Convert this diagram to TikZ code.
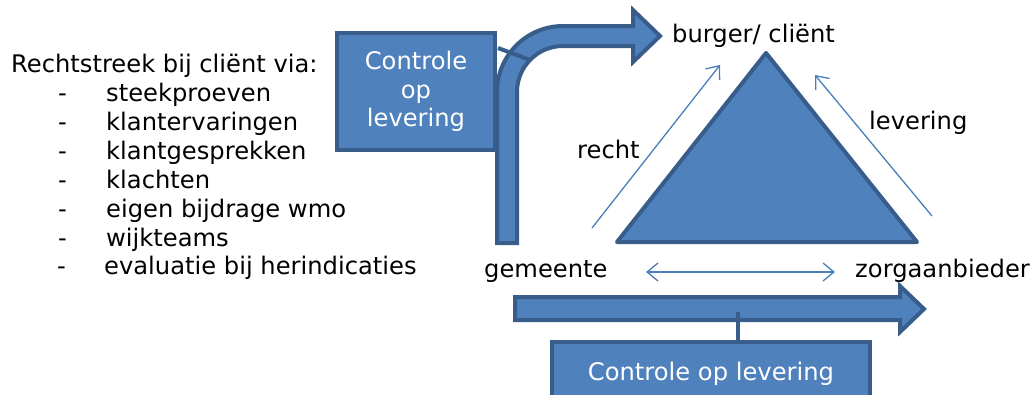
\documentclass[tikz,border=0pt]{standalone}
\usepackage{fontspec}
\setmainfont{DejaVu Sans}
\usetikzlibrary{arrows.meta}
\definecolor{fillb}{HTML}{4F81BD}
\definecolor{lineb}{HTML}{385D8A}
\definecolor{thinb}{HTML}{4A7EBB}
\begin{document}
\begin{tikzpicture}[x=1pt,y=-1pt,
  txt/.style={font=\fontsize{24.2}{29}\selectfont, inner sep=0pt, text=black},
  boxstyle/.style={fill=fillb, draw=lineb, line width=4pt, text=white,
    font=\fontsize{24.2}{29}\selectfont, align=center, inner sep=0pt},
  shapestyle/.style={fill=fillb, draw=lineb, line width=4pt, line join=miter},
  calloutline/.style={draw=lineb, line width=4pt},
  thinarrow/.style={draw=thinb, line width=1.3pt, -{Straight Barb[length=11pt,width=18pt]}},
  thindouble/.style={draw=thinb, line width=1.3pt, {Straight Barb[length=11pt,width=18pt]}-{Straight Barb[length=11pt,width=18pt]}}
]
\useasboundingbox (0,0) rectangle (1034,394);

% left text
\node[txt, anchor=base west] (title) at (11,72) {Rechtstreek bij cliënt via:};
\foreach \y/\t [count=\i] in {101/steekproeven, 130/klantervaringen, 159/klantgesprekken, 188/klachten, 217/eigen bijdrage wmo, 246/wijkteams}{
  \node[txt, anchor=base west] (d\i) at (58,\y) {-};
  \node[txt, anchor=base west] (item\i) at (106,\y) {\t};
}
\node[txt, anchor=base west] (d7) at (57,274) {-};
\node[txt, anchor=base west] (item7) at (104,274) {evaluatie bij herindicaties};

% bent arrow
\draw[shapestyle] (497,243) -- (497,92) arc[start angle=180,end angle=270,radius=66]
  -- (633,26) -- (633,10) -- (660,36) -- (633,62) -- (633,46) -- (563,46)
  arc[start angle=270,end angle=180,radius=46] -- (517,243) -- cycle;

% top box
\node[boxstyle, minimum width=158pt, minimum height=117pt, anchor=north west] (box1) at (335,31)
  {Controle\\[-0.5pt]op\\[-0.5pt]levering};
\coordinate (c1) at (498,48);
\coordinate (c2) at (530,60);
\draw[calloutline] (c1) -- (c2);

% triangle
\coordinate (apex) at (766,53);
\coordinate (bl) at (617,242);
\coordinate (br) at (917,242);
\draw[shapestyle, line join=round] (apex) -- (br) -- (bl) -- cycle;

% labels
\node[txt, anchor=base west] (burger) at (672,42) {burger/ cliënt};
\node[txt, anchor=base west] (recht) at (577,158) {recht};
\node[txt, anchor=base west] (lev) at (869,129) {levering};
\node[txt, anchor=base west] (gem) at (484,277) {gemeente};
\node[txt, anchor=base east] (zorg) at (1030,277) {zorgaanbieder};

% thin arrows
\coordinate (r1) at (592,228); \coordinate (r2) at (720,65);
\coordinate (l1) at (932,216); \coordinate (l2) at (815,75);
\coordinate (h1) at (646,272); \coordinate (h2) at (835,272);
\draw[thinarrow] (r1) -- (r2);
\draw[thinarrow] (l1) -- (l2);
\draw[thindouble] (h1) -- (h2);

% bottom arrow
\draw[shapestyle] (515,297) -- (900,297) -- (900,286) -- (924,309) -- (900,332)
  -- (900,320) -- (515,320) -- cycle;

% bottom box
\node[boxstyle, minimum width=318pt, minimum height=64pt] (box2) at (711,374) {Controle op levering};
\coordinate (c3) at (738,312);
\draw[calloutline] (c3) -- (c3 |- box2.north);
\end{tikzpicture}
\end{document}
